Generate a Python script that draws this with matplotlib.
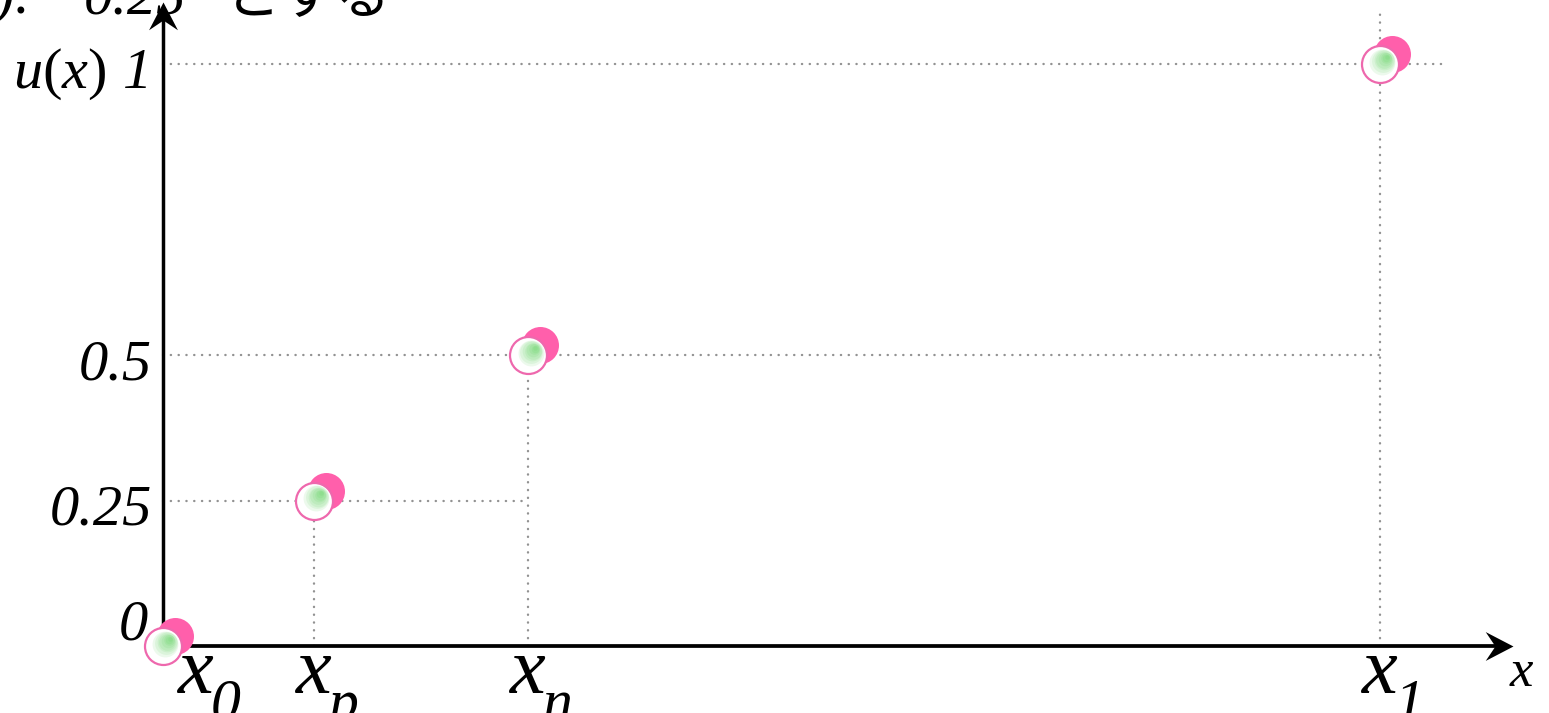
""" utility function points u(x) """

import numpy as np
import matplotlib
matplotlib.use('Agg')
from matplotlib import pyplot as plt
from matplotlib.path import Path
from matplotlib.transforms import offset_copy

# data
x_names = ['0', 'p', 'n', '1']
x_pos = [0.0, 0.124, 0.30, 1.0]
u_vals = [0.0, 0.25, 0.5, 1.0]
y_ticks = [0.0, 0.25, 0.5, 1.0]
y_tick_labels = ['0', '0.25', '0.5', '1']

# fonts
plt.rcParams['mathtext.fontset'] = 'custom'
plt.rcParams['mathtext.rm'] = 'Liberation Serif'
plt.rcParams['mathtext.it'] = 'Liberation Serif:italic'
serif = dict(family='Liberation Serif', style='italic')

fig = plt.figure(figsize=(15.49, 7.13), dpi=100)
ax = fig.add_axes([0, 0, 1, 1])
ax.set_axis_off()
# 1217 px per unit in x, 582 px per unit in y, origin at (163, 646)
ax.set_xlim(-163 / 1217, (1549 - 163) / 1217)
ax.set_ylim(-67 / 582, 646 / 582)


def px(dx, dy):
    return offset_copy(ax.transData, fig=fig, x=dx, y=dy, units='dots')


# dotted guide lines
dot = dict(color='#929292', lw=1.7, linestyle=(0, (0.1, 3.2)),
           dash_capstyle='round', zorder=1)
h_end = x_pos[1:] + [1.055]
v_top = u_vals[:-1] + [1.09]
for i in range(1, len(x_pos)):
    ax.plot([0, h_end[i]], [u_vals[i], u_vals[i]], **dot)
    ax.plot([x_pos[i], x_pos[i]], [0, v_top[i]], **dot)

# axes with arrows
x_tip = 1.1093
y_tip = 1.1065
ax.plot([0, x_tip - 0.01], [0, 0], color='k', lw=2.7, zorder=2)
ax.plot([0, 0], [0, y_tip - 0.02], color='k', lw=2.5, zorder=2)
codes = [Path.MOVETO, Path.LINETO, Path.LINETO, Path.LINETO, Path.CLOSEPOLY]
head_x = Path([(0, 0), (-1, 0.52), (-0.65, 0), (-1, -0.52), (0, 0)], codes)
head_y = Path([(0, 0), (-0.52, -1), (0, -0.65), (0.52, -1), (0, 0)], codes)
ax.plot([x_tip], [0], marker=head_x, ms=40, color='k', mew=0, zorder=3)
ax.plot([0], [y_tip], marker=head_y, ms=40, color='k', mew=0, zorder=3)

# points: pink shadow, white ball, green highlight
R = 18.5
for xv, uv in zip(x_pos, u_vals):
    ax.plot([xv], [uv], 'o', ms=2 * R * 0.72, color='#ff5fab', mew=0,
            transform=px(12, 10), zorder=4)
    ax.plot([xv], [uv], 'o', ms=2 * R * 0.72, mfc='white', mec='#ee68ad',
            mew=1.6, zorder=5)
    for r in np.linspace(0.7, 0.12, 8) * R:
        d = (R - r) * 0.62 / np.sqrt(2)
        ax.plot([xv], [uv], 'o', ms=2 * r * 0.72, color='#33c633', alpha=0.09,
                mew=0, transform=px(d, d), zorder=6)

# y labels
for v, lab in zip(y_ticks, y_tick_labels):
    if v == 0:
        ax.text(0, v, lab, transform=px(-15, 6), ha='right', va='baseline',
                fontsize=42, **serif)
    else:
        ax.text(0, v, lab, transform=px(-11, -24), ha='right', va='baseline',
                fontsize=42, **serif)
ax.text(0, 1.0, '$u(x)$', transform=px(-150, -24), ha='left', va='baseline',
        fontsize=42)

# x labels
for xv, name in zip(x_pos, x_names):
    dx = 33 if name == '0' else 0
    ax.text(xv, 0, 'x', transform=px(dx, -47), ha='center', va='baseline',
            fontsize=58, **serif)
    ax.text(xv, 0, name, transform=px(dx + 15, -74), ha='left', va='baseline',
            fontsize=43, **serif)
ax.text(x_tip, 0, 'x', transform=px(-3, -40), ha='left', va='baseline',
        fontsize=38, **serif)

# caption cut off at the top edge
base = (713 - 13) / 713
fig.text(-5 / 1549, base, '):', ha='left', va='baseline', fontsize=42, **serif)
fig.text(84 / 1549, base, '0.25', ha='left', va='baseline', fontsize=42, **serif)
fig.text(225 / 1549, (713 - 14) / 713, 'とする', ha='left', va='baseline',
         fontsize=40, family='Noto Sans CJK JP')

fig.savefig('out.png', dpi=100)
